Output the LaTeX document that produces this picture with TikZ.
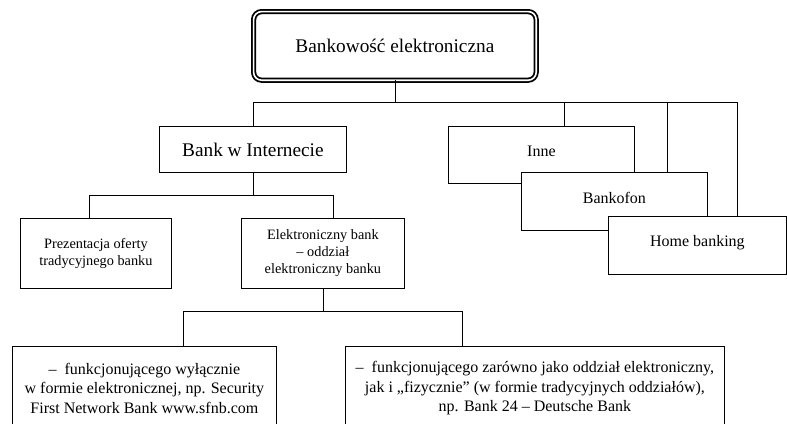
\documentclass[tikz,border=0pt]{standalone}
\usepackage{fontspec}
\setmainfont{Liberation Serif}
\usetikzlibrary{positioning}
\tikzset{
  box/.style={draw,fill=white,line width=0.8pt,inner sep=0pt,align=center,
    anchor=north west,font=\fontsize{14.3}{17}\selectfont},
  bigbox/.style={box,font=\fontsize{19.3}{23}\selectfont},
  tabbox/.style={box,text depth=8pt,font=\fontsize{16}{19}\selectfont},
  lowbox/.style={box,font=\fontsize{16}{19.5}\selectfont},
  link/.style={line width=0.8pt},
}

\begin{document}
\begin{tikzpicture}[x=1pt,y=-1pt]
  \useasboundingbox (0,0) rectangle (787,423);
  \clip (0,0) rectangle (787,423);
  % helper points: bus lines and entry points
  \coordinate (busA) at (0,102);
  \coordinate (busB) at (0,195);
  \coordinate (busC) at (0,311);
  \coordinate (inIn) at (564,126);
  \coordinate (inBf) at (667,172);
  \coordinate (inHb) at (737,216);
  \coordinate (inPr) at (89,218);
  \coordinate (inEb) at (333,218);
  \coordinate (inL) at (183,346);
  \coordinate (inR) at (462,346);

  % boxes
  \node[bigbox,draw=none,fill=none,minimum width=281.8pt,minimum height=67.8pt]
    (bank) at (253.6,11.6) {Bankowość elektroniczna};
  \draw[line width=1.8pt,double,double distance=1.6pt,rounded corners=8pt]
    (bank.north west) rectangle (bank.south east);
  \node[bigbox,minimum width=187pt,minimum height=46pt] (bwi) at (159,126) {Bank w Internecie};
  \node[box,minimum width=151pt,minimum height=70pt] (prez) at (20,218)
    {Prezentacja oferty\\tradycyjnego banku};
  \node[box,minimum width=163pt,minimum height=70pt] (ebank) at (241,218)
    {Elektroniczny bank\\– oddział\\elektroniczny banku};
  \node[lowbox,minimum width=264pt,minimum height=84pt] (only) at (12,346)
    {–\ \ funkcjonującego wyłącznie\\w formie elektronicznej, np. Security\\First Network Bank www.sfnb.com};
  \node[lowbox,minimum width=379pt,minimum height=84pt] (both) at (345,346)
    {–\ \ funkcjonującego zarówno jako oddział elektroniczny,\\jak i „fizycznie” (w formie tradycyjnych oddziałów),\\np. Bank 24 – Deutsche Bank};

  % connectors
  \draw[link] (bank.south) -- (bank.south |- busA);
  \draw[link] (bwi.north) |- (inHb |- busA) -- (inHb);
  \draw[link] (inIn) -- (inIn |- busA);
  \draw[link] (inBf) -- (inBf |- busA);
  \draw[link] (bwi.south) -- (bwi.south |- busB);
  \draw[link] (inPr) |- (inEb |- busB) -- (inEb);
  \draw[link] (ebank.south) -- (ebank.south |- busC);
  \draw[link] (inL) |- (inR |- busC) -- (inR);

  % overlapping cards
  \node[tabbox,minimum width=186pt,minimum height=57pt] (inne) at (448,126) {Inne};
  \node[tabbox,minimum width=186pt,minimum height=58pt] (bfon) at (521,172) {Bankofon};
  \node[tabbox,minimum width=178pt,minimum height=58pt] (hb) at (608,216) {Home banking};
\end{tikzpicture}
\end{document}
